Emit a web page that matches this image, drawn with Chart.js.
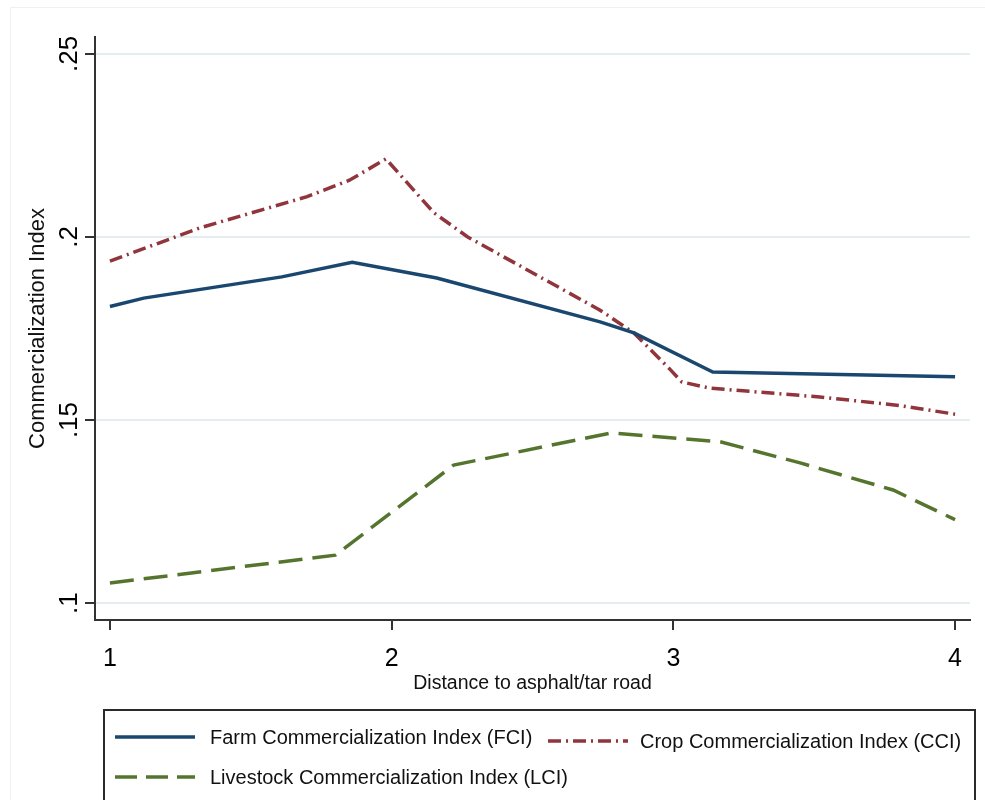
<!DOCTYPE html>
<html>
<head>
<meta charset="utf-8">
<script src="https://cdn.jsdelivr.net/npm/chart.js@4.4.1/dist/chart.umd.min.js"></script>
<style>
  html, body { margin: 0; padding: 0; background: #fff; }
</style>
</head>
<body>
<canvas id="chart" width="985" height="800"></canvas>
<script>
// distance to road (x) and index values
const fciX = [1, 1.12, 1.61, 1.86, 2.16, 2.74, 2.86, 3.14, 4];
const fciY = [0.1810, 0.1833, 0.1891, 0.1931, 0.1888, 0.1768, 0.1738, 0.1631, 0.1618];

const cciX = [1, 1.32, 1.70, 1.85, 1.98, 2.15, 2.27, 2.74, 2.86, 2.99, 3.03, 3.13, 3.52, 3.80, 4];
const cciY = [0.1934, 0.2025, 0.2110, 0.2155, 0.2213, 0.2066, 0.2000, 0.1800, 0.1738, 0.1637, 0.1604, 0.1587, 0.1563, 0.1540, 0.1516];

const lciX = [1, 1.80, 2.22, 2.78, 3.17, 3.45, 3.78, 4];
const lciY = [0.1055, 0.1131, 0.1377, 0.1465, 0.1440, 0.1383, 0.1309, 0.1228];

const seriesNames = [
    "Farm Commercialization Index (FCI)",
    "Crop Commercialization Index (CCI)",
    "Livestock Commercialization Index (LCI)"
];
const xTicks = [1, 2, 3, 4];
const yTicks = [0.1, 0.15, 0.2, 0.25];

const FONT = '"Liberation Sans", Arial, sans-serif';

function pts(xs, ys) {
    return xs.map((x, i) => ({x: x, y: ys[i]}));
}

// stata-like legend box under the plot
const legendBox = {
    id: "legendBox",
    beforeDraw(chart) {
        const ctx = chart.ctx;
        ctx.save();
        ctx.fillStyle = "#fff";
        ctx.fillRect(0, 0, chart.width, chart.height);
        ctx.strokeStyle = "#f0f0f0";
        ctx.lineWidth = 1;
        ctx.beginPath();
        ctx.moveTo(10.5, 800); ctx.lineTo(10.5, 7.5); ctx.lineTo(985, 7.5);
        ctx.stroke();
        ctx.restore();
    },
    afterDraw(chart) {
        const ctx = chart.ctx;
        ctx.save();
        ctx.strokeStyle = "#2a2a2a";
        ctx.lineWidth = 2;
        ctx.strokeRect(104, 710, 871, 110);
        const slots = [[115, 737, 210], [548, 741, 640], [115, 777, 210]];
        chart.data.datasets.forEach((ds, i) => {
            const [x, y, tx] = slots[i];
            ctx.strokeStyle = ds.borderColor;
            ctx.lineWidth = ds.borderWidth;
            ctx.setLineDash(ds.legendDash);
            ctx.beginPath();
            ctx.moveTo(x, y);
            ctx.lineTo(x + 80, y);
            ctx.stroke();
            ctx.setLineDash([]);
            ctx.fillStyle = "#111";
            ctx.font = "20px " + FONT;
            ctx.textBaseline = "middle";
            ctx.fillText(ds.label, tx, y + 1);
        });
        ctx.restore();
    }
};

new Chart(document.getElementById("chart"), {
    type: "line",
    data: {
        datasets: [{
            label: seriesNames[0],
            data: pts(fciX, fciY),
            borderColor: "#1a476f",
            borderWidth: 3.5,
            legendDash: []
        }, {
            label: seriesNames[1],
            data: pts(cciX, cciY),
            borderColor: "#90353b",
            borderWidth: 3.5,
            borderDash: [13, 5, 2, 5],
            legendDash: [13, 5, 2, 5]
        }, {
            label: seriesNames[2],
            data: pts(lciX, lciY),
            borderColor: "#55752f",
            borderWidth: 3.5,
            borderDash: [24, 10],
            legendDash: [22, 9]
        }]
    },
    options: {
        responsive: false,
        animation: false,
        layout: {padding: {top: 37, left: 10, right: 15, bottom: 105}},
        elements: {point: {radius: 0}, line: {tension: 0}},
        plugins: {
            legend: {display: false},
            tooltip: {enabled: false}
        },
        scales: {
            x: {
                type: "linear",
                min: 0.947,
                max: 4.053,
                afterBuildTicks: s => { s.ticks = xTicks.map(v => ({value: v})); },
                afterFit: s => { s.height = 75; },
                grid: {drawOnChartArea: false, tickColor: "#333", tickLength: 10, lineWidth: 2},
                border: {color: "#333", width: 2},
                ticks: {color: "#000", padding: 14, font: {family: FONT, size: 25}},
                title: {
                    display: true,
                    text: "Distance to asphalt/tar road",
                    color: "#111",
                    font: {family: FONT, size: 19.5},
                    padding: {top: 0, bottom: 0}
                }
            },
            y: {
                min: 0.0954,
                max: 0.2546,
                afterBuildTicks: s => { s.ticks = yTicks.map(v => ({value: v})); },
                afterFit: s => { s.width = 85; },
                grid: {color: "#e4edf0", lineWidth: 2, tickColor: "#333", tickLength: 10},
                border: {color: "#333", width: 2},
                ticks: {
                    color: "#000",
                    padding: -3,
                    crossAlign: "center",
                    minRotation: 90,
                    maxRotation: 90,
                    font: {family: FONT, size: 26},
                    callback: v => String(v).replace(/^0/, "")
                },
                title: {
                    display: true,
                    text: "Commercialization Index",
                    color: "#111",
                    font: {family: FONT, size: 22},
                    padding: {top: 15, bottom: 0}
                }
            }
        }
    },
    plugins: [legendBox]
});
</script>
</body>
</html>
